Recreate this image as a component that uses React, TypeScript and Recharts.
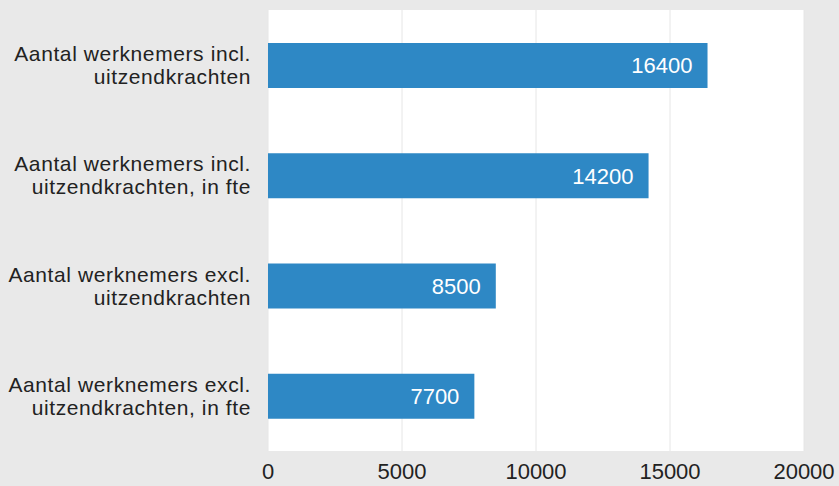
import { BarChart, Bar, XAxis, YAxis, CartesianGrid, LabelList } from "recharts";

const categories = [
  "Aantal werknemers incl.|uitzendkrachten",
  "Aantal werknemers incl.|uitzendkrachten, in fte",
  "Aantal werknemers excl.|uitzendkrachten",
  "Aantal werknemers excl.|uitzendkrachten, in fte",
];
const values = [16400, 14200, 8500, 7700];
const xTicks = [0, 5000, 10000, 15000, 20000];

const FONT = '"Liberation Sans", Arial, sans-serif';

function CategoryTick(props: any) {
  const { x, y, payload } = props;
  const lines = String(payload.value).split("|");
  const tx = x - 9;
  return (
    <text x={tx} y={y} textAnchor="end" fill="#222" fontSize={21} fontFamily={FONT} letterSpacing={0.6}>
      <tspan x={tx} dy={-4}>{lines[0]}</tspan>
      <tspan x={tx} dy={23}>{lines[1]}</tspan>
    </text>
  );
}

export default function App() {
  const data = categories.map((c, i) => ({ name: c, value: values[i] }));

  return (
    <div
      style={{
        position: "absolute",
        top: 0,
        left: 0,
        width: 839,
        height: 486,
        background: "#e9e9e9",
        overflow: "hidden",
      }}
    >
      <BarChart
        width={839}
        height={486}
        data={data}
        layout="vertical"
        margin={{ top: 10, right: 35, bottom: 0, left: 0 }}
      >
        <CartesianGrid horizontal={false} stroke="#e6e6e6" fill="#ffffff" />
        <XAxis
          type="number"
          domain={[0, 20000]}
          ticks={xTicks}
          height={35}
          axisLine={false}
          tickLine={false}
          interval={0}
          tick={{ fill: "#222", fontSize: 22, fontFamily: FONT, dy: 4 }}
        />
        <YAxis
          type="category"
          dataKey="name"
          width={268}
          axisLine={false}
          tickLine={false}
          tick={<CategoryTick />}
        />
        <Bar dataKey="value" fill="#2e88c5" barSize={45} isAnimationActive={false}>
          <LabelList
            dataKey="value"
            position="insideRight"
            offset={15}
            fill="#ffffff"
            fontSize={22}
            fontFamily={FONT}
          />
        </Bar>
      </BarChart>
    </div>
  );
}
